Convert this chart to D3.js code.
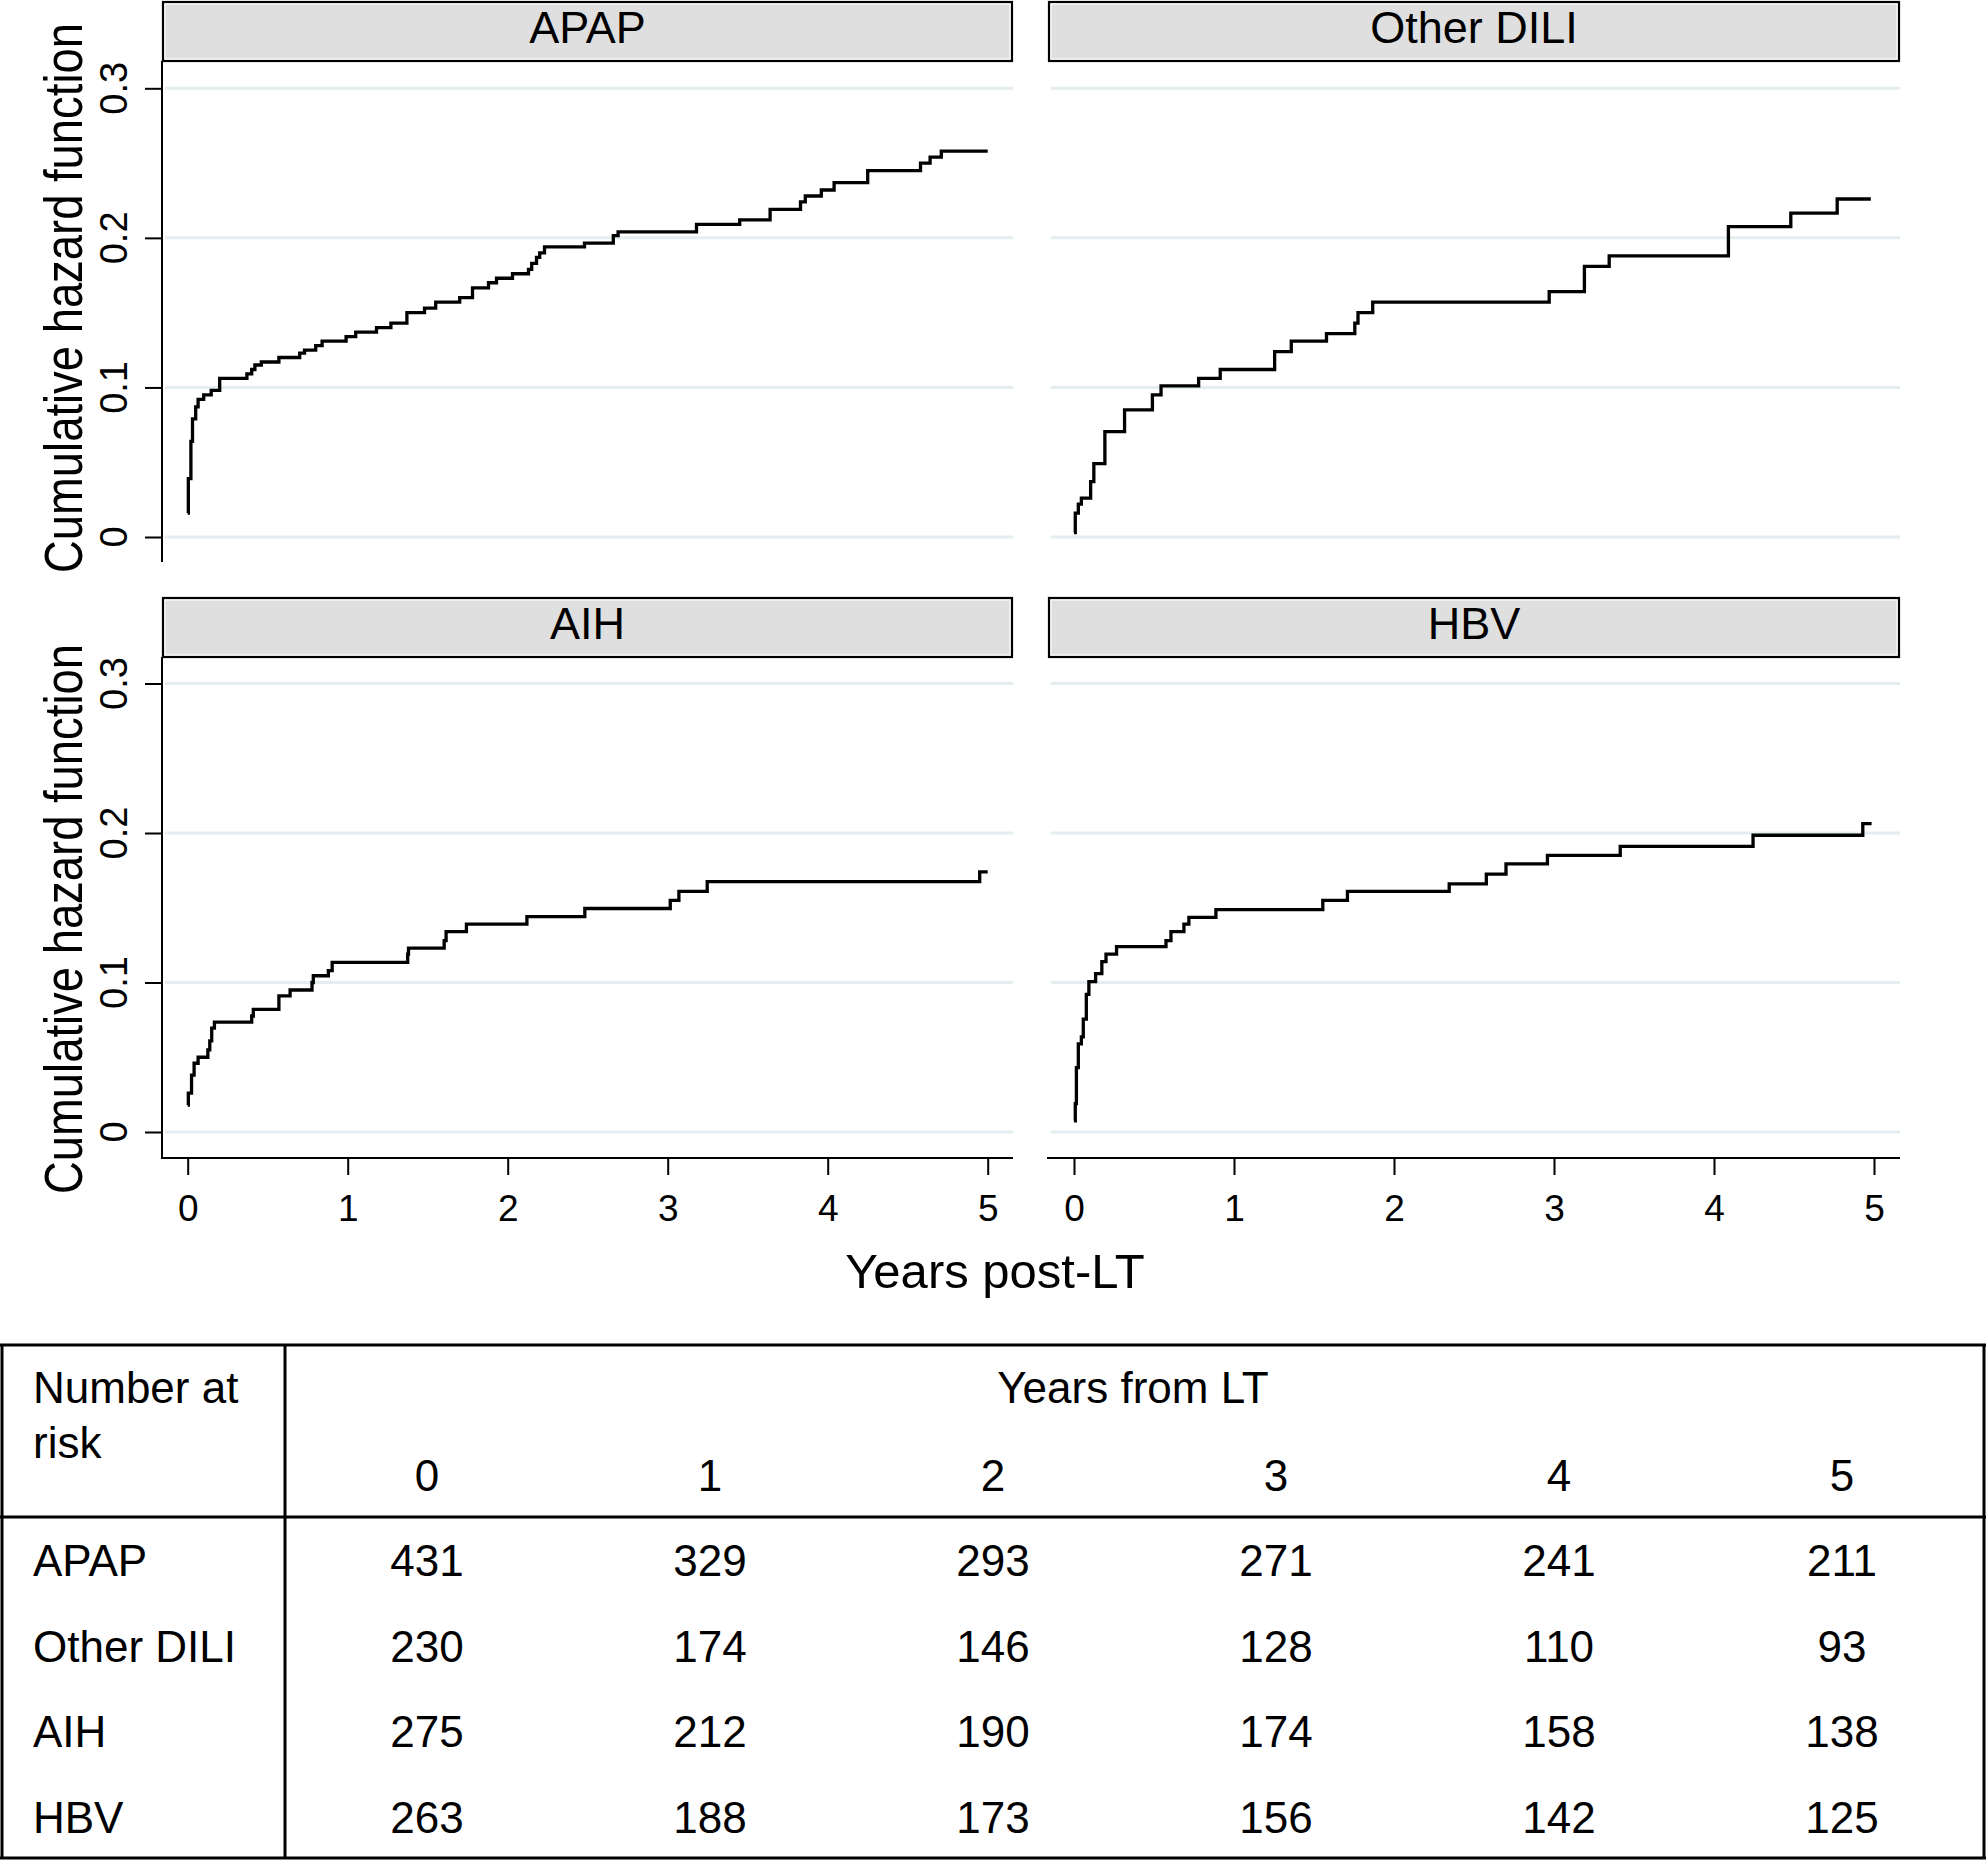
<!DOCTYPE html>
<html><head><meta charset="utf-8">
<script src="https://cdn.jsdelivr.net/npm/d3@7"></script>
<style>
body{margin:0;background:#fff}
svg{display:block}
text{font-family:"Liberation Sans",Arial,Helvetica,sans-serif;fill:#000}
</style>
</head><body>
<svg id="c" width="1986" height="1861"></svg>
<script>
// ---------- data ----------
const panelNames = ["APAP", "Other DILI", "AIH", "HBV"];
const xTickValues = [0, 1, 2, 3, 4, 5];
const yTickValues = [0, 0.1, 0.2, 0.3];
const yTickLabels = ["0", "0.1", "0.2", "0.3"];
const xAxisTitle = "Years post-LT";
const yAxisTitle = "Cumulative hazard function";

const apapTime = [0, 0.004, 0.02, 0.03, 0.05, 0.065, 0.1, 0.147, 0.2, 0.37, 0.4, 0.42, 0.46, 0.57, 0.7, 0.73, 0.8, 0.84, 0.99, 1.05, 1.18, 1.27, 1.37, 1.48, 1.55, 1.7, 1.78, 1.88, 1.93, 2.03, 2.13, 2.15, 2.18, 2.2, 2.23, 2.48, 2.66, 2.69, 3.18, 3.45, 3.64, 3.83, 3.86, 3.96, 4.04, 4.25, 4.58, 4.64, 4.71, 5.0];
const apapHaz  = [0.016, 0.039, 0.064, 0.079, 0.087, 0.092, 0.095, 0.098, 0.106, 0.109, 0.112, 0.115, 0.117, 0.120, 0.123, 0.125, 0.128, 0.131, 0.134, 0.137, 0.140, 0.143, 0.150, 0.153, 0.157, 0.160, 0.1665, 0.170, 0.173, 0.176, 0.179, 0.183, 0.187, 0.190, 0.194, 0.1965, 0.2015, 0.204, 0.209, 0.212, 0.219, 0.224, 0.228, 0.232, 0.237, 0.245, 0.250, 0.254, 0.258, 0.258];

const otherDiliTime = [0, 0.008, 0.027, 0.046, 0.104, 0.124, 0.193, 0.316, 0.49, 0.544, 0.779, 0.914, 1.254, 1.358, 1.578, 1.755, 1.775, 1.867, 2.97, 3.19, 3.345, 4.09, 4.48, 4.77, 4.98];
const otherDiliHaz  = [0.003, 0.016, 0.022, 0.026, 0.037, 0.049, 0.0705, 0.085, 0.095, 0.101, 0.106, 0.112, 0.124, 0.131, 0.136, 0.143, 0.150, 0.157, 0.164, 0.181, 0.188, 0.2075, 0.2165, 0.226, 0.226];

const aihTime = [0, 0.004, 0.024, 0.04, 0.065, 0.126, 0.138, 0.15, 0.167, 0.40, 0.41, 0.57, 0.64, 0.777, 0.785, 0.879, 0.903, 1.375, 1.38, 1.603, 1.615, 1.742, 2.12, 2.482, 3.016, 3.07, 3.247, 4.95, 5.0];
const aihHaz  = [0.018, 0.026, 0.038, 0.046, 0.050, 0.055, 0.061, 0.0695, 0.0735, 0.0776, 0.082, 0.091, 0.095, 0.100, 0.1045, 0.108, 0.1134, 0.119, 0.123, 0.128, 0.134, 0.139, 0.144, 0.1495, 0.155, 0.161, 0.1675, 0.174, 0.174];

const hbvTime = [0, 0.008, 0.015, 0.027, 0.046, 0.058, 0.077, 0.093, 0.135, 0.174, 0.2, 0.266, 0.575, 0.606, 0.687, 0.718, 0.887, 1.555, 1.709, 2.345, 2.577, 2.7, 2.959, 3.414, 4.244, 4.93, 4.985];
const hbvHaz  = [0.0075, 0.019, 0.043, 0.059, 0.0636, 0.0755, 0.092, 0.1006, 0.106, 0.114, 0.119, 0.124, 0.128, 0.134, 0.139, 0.1435, 0.1487, 0.155, 0.161, 0.166, 0.1725, 0.1794, 0.185, 0.191, 0.1985, 0.2063, 0.2063];

const riskHeaderLabel = ["Number at", "risk"];
const riskYearsTitle = "Years from LT";
const riskYears = [0, 1, 2, 3, 4, 5];
const riskGroups = ["APAP", "Other DILI", "AIH", "HBV"];
const riskAPAP      = [431, 329, 293, 271, 241, 211];
const riskOtherDILI = [230, 174, 146, 128, 110, 93];
const riskAIH       = [275, 212, 190, 174, 158, 138];
const riskHBV       = [263, 188, 173, 156, 142, 125];

// ---------- build ----------
const series = [
  {name: panelNames[0], time: apapTime, haz: apapHaz},
  {name: panelNames[1], time: otherDiliTime, haz: otherDiliHaz},
  {name: panelNames[2], time: aihTime, haz: aihHaz},
  {name: panelNames[3], time: hbvTime, haz: hbvHaz}
];
const riskRows = [riskAPAP, riskOtherDILI, riskAIH, riskHBV];

const svg = d3.select("#c");
const cols = [{x0: 162, x1: 1013, r0: 187.7, r1: 987.7}, {x0: 1048, x1: 1900, r0: 1074, r1: 1874}];
const rows = [
  {stripTop: 1, stripBot: 61, plotBot: 562, y0: 537, y3: 88.3, titleY: 298},
  {stripTop: 597, stripBot: 657, plotBot: 1158, y0: 1132, y3: 683.5, titleY: 919}
];
const gridColor = "#e4eef1";

series.forEach((s, i) => {
  const c = cols[i % 2], r = rows[Math.floor(i / 2)];
  const x = d3.scaleLinear().domain([0, 5]).range([c.r0, c.r1]);
  const y = d3.scaleLinear().domain([0, 0.3]).range([r.y0, r.y3]);
  const g = svg.append("g");

  // gridlines
  g.selectAll(".grid").data(yTickValues).enter().append("line")
    .attr("x1", c.x0 + 3).attr("x2", c.x1)
    .attr("y1", d => y(d)).attr("y2", d => y(d))
    .attr("stroke", gridColor).attr("stroke-width", 3);

  // strip
  g.append("rect").attr("x", c.x0 + 1).attr("y", r.stripTop + 1)
    .attr("width", c.x1 - c.x0 - 2).attr("height", r.stripBot - r.stripTop - 1)
    .attr("fill", "#dfdfdf").attr("stroke", "#000").attr("stroke-width", 2.2);
  g.append("rect").attr("x", c.x0 + 3).attr("y", r.stripTop + 3)
    .attr("width", c.x1 - c.x0 - 6).attr("height", r.stripBot - r.stripTop - 5)
    .attr("fill", "none").attr("stroke", "#fff").attr("stroke-width", 1);
  g.append("text").attr("x", (c.x0 + c.x1) / 2).attr("y", r.stripBot - 18)
    .attr("text-anchor", "middle").attr("font-size", 45).text(s.name);

  // y axis (left column only)
  if (i % 2 === 0) {
    const ya = d3.axisLeft(y).tickValues(yTickValues).tickSize(17).tickSizeOuter(0).tickFormat("");
    const ag = g.append("g").attr("transform", `translate(${c.x0},0)`).call(ya);
    ag.select(".domain").remove();
    ag.selectAll(".tick line").attr("stroke", "#000").attr("stroke-width", 2);
    g.append("line").attr("x1", c.x0).attr("x2", c.x0)
      .attr("y1", r.stripBot).attr("y2", r.plotBot)
      .attr("stroke", "#000").attr("stroke-width", 2);
    g.selectAll(".ytl").data(yTickValues).enter().append("text")
      .attr("transform", (d) => `translate(127,${y(d)}) rotate(-90)`)
      .attr("text-anchor", "middle").attr("font-size", 38)
      .text((d, k) => yTickLabels[k]);
    g.append("text")
      .attr("transform", `translate(82,${r.titleY}) rotate(-90) scale(1,1.2)`)
      .attr("text-anchor", "middle").attr("font-size", 45.4)
      .text(yAxisTitle);
  }

  // x axis (bottom row only)
  if (i >= 2) {
    const xa = d3.axisBottom(x).tickValues(xTickValues).tickSize(17).tickSizeOuter(0).tickFormat(d3.format("d"));
    const ag = g.append("g").attr("transform", `translate(0,${r.plotBot})`).call(xa);
    ag.select(".domain").remove();
    ag.selectAll(".tick line").attr("stroke", "#000").attr("stroke-width", 2);
    ag.selectAll(".tick text").attr("y", 63).attr("dy", 0)
      .attr("font-size", 37).attr("fill", "#000")
      .style("font-family", '"Liberation Sans",Arial,sans-serif');
    g.append("line").attr("x1", c.x0 - 1).attr("x2", c.x1)
      .attr("y1", r.plotBot).attr("y2", r.plotBot)
      .attr("stroke", "#000").attr("stroke-width", 2);
  }

  // curve
  const pts = s.time.map((t, k) => [t, s.haz[k]]);
  const line = d3.line().x(d => x(d[0])).y(d => y(d[1])).curve(d3.curveStepAfter);
  g.append("path").attr("d", line(pts)).attr("fill", "none")
    .attr("stroke", "#000").attr("stroke-width", 3.3).attr("stroke-linejoin", "miter");
});

// x axis title
svg.append("text").attr("x", 995).attr("y", 1288).attr("text-anchor", "middle")
  .attr("font-size", 49).text(xAxisTitle);

// ---------- number at risk table ----------
const tb = svg.append("g");
const tTop = 1345, tHead = 1517, tBot = 1858, tLeft = 2, tRight = 1984, tDiv = 285;
const lineAttrs = (sel) => sel.attr("stroke", "#000").attr("stroke-width", 3);
lineAttrs(tb.append("line").attr("x1", 0).attr("x2", 1986).attr("y1", tTop).attr("y2", tTop));
lineAttrs(tb.append("line").attr("x1", 0).attr("x2", 1986).attr("y1", tHead).attr("y2", tHead));
lineAttrs(tb.append("line").attr("x1", 0).attr("x2", 1986).attr("y1", tBot).attr("y2", tBot));
lineAttrs(tb.append("line").attr("x1", tLeft).attr("x2", tLeft).attr("y1", tTop).attr("y2", tBot));
lineAttrs(tb.append("line").attr("x1", tRight).attr("x2", tRight).attr("y1", tTop).attr("y2", tBot));
lineAttrs(tb.append("line").attr("x1", tDiv).attr("x2", tDiv).attr("y1", tTop).attr("y2", tBot));

const colX = d3.scaleLinear().domain([0, 5]).range([427, 1842]);
const rowY = d3.scaleLinear().domain([0, 3]).range([1576, 1833]);
const fs = 44;

tb.append("text").attr("x", 33).attr("y", 1403).attr("font-size", fs).text(riskHeaderLabel[0]);
tb.append("text").attr("x", 33).attr("y", 1458).attr("font-size", fs).text(riskHeaderLabel[1]);
tb.append("text").attr("x", 1133).attr("y", 1403).attr("text-anchor", "middle").attr("font-size", fs).text(riskYearsTitle);
tb.selectAll(".yr").data(riskYears).enter().append("text")
  .attr("x", d => colX(d)).attr("y", 1491).attr("text-anchor", "middle").attr("font-size", fs).text(d => d);

riskGroups.forEach((gname, k) => {
  tb.append("text").attr("x", 33).attr("y", rowY(k)).attr("font-size", fs).text(gname);
  tb.selectAll(".v" + k).data(riskRows[k]).enter().append("text")
    .attr("x", (d, j) => colX(riskYears[j])).attr("y", rowY(k))
    .attr("text-anchor", "middle").attr("font-size", fs).text(d => d);
});
</script>
</body></html>
